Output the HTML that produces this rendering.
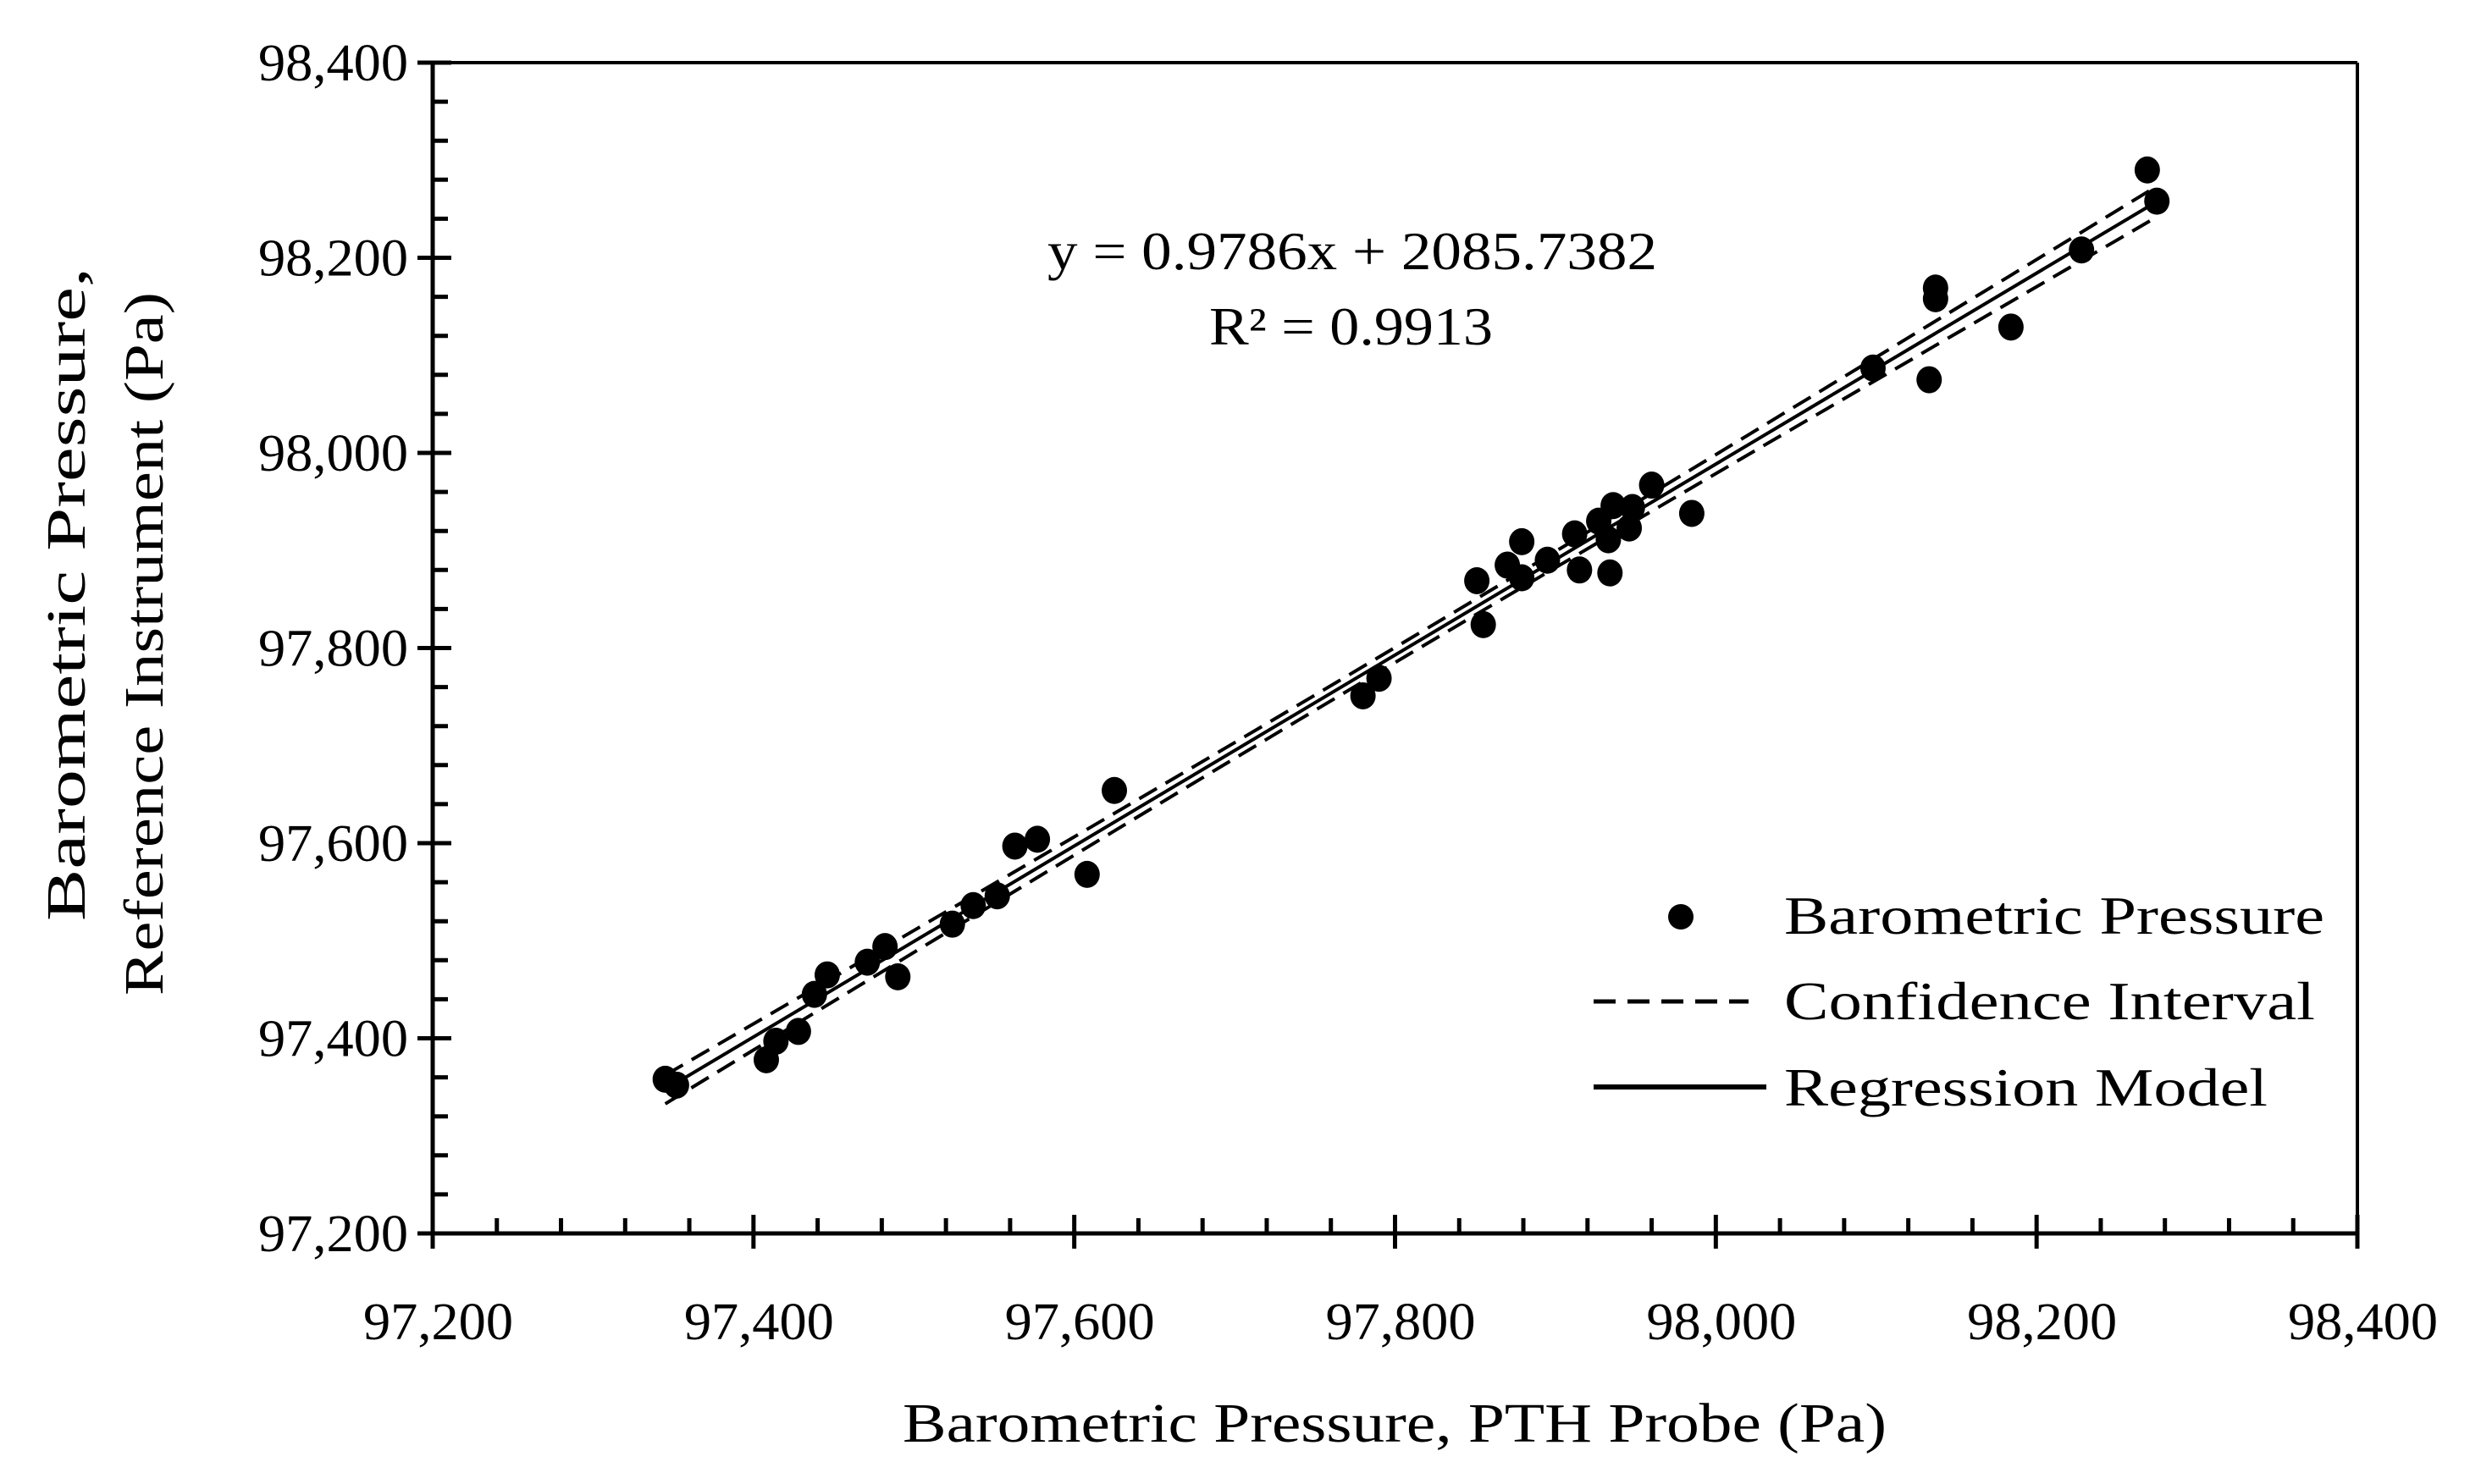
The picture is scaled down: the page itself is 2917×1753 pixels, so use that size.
<!DOCTYPE html>
<html><head><meta charset="utf-8">
<style>
html,body{margin:0;padding:0;background:#fff;}
svg{display:block;}
text{font-family:"Liberation Serif",serif;fill:#000;}
</style></head>
<body>
<svg id="chart" width="2917" height="1753" viewBox="0 0 2917 1753" xmlns="http://www.w3.org/2000/svg">
<g id="grid-layer"></g>
<g id="marks"></g>
<text x="1237" y="318" font-size="64" textLength="720" lengthAdjust="spacingAndGlyphs">y = 0.9786x + 2085.7382</text>
<text x="1428" y="407" font-size="64" textLength="335" lengthAdjust="spacingAndGlyphs">R² = 0.9913</text>
<text x="1066" y="1703" font-size="66" textLength="1162" lengthAdjust="spacingAndGlyphs">Barometric Pressure, PTH Probe (Pa)</text>
<text transform="translate(100,1088) rotate(-90)" font-size="66" textLength="772" lengthAdjust="spacingAndGlyphs">Barometric Pressure,</text>
<text transform="translate(192,1176) rotate(-90)" font-size="66" textLength="831" lengthAdjust="spacingAndGlyphs">Reference Instrument (Pa)</text>
<g>
  <circle cx="1985" cy="1083" r="15" fill="#000"/>
  <text x="2107" y="1103" font-size="64" textLength="638" lengthAdjust="spacingAndGlyphs">Barometric Pressure</text>
  <line x1="1882" y1="1183" x2="2065" y2="1183" stroke="#000" stroke-width="5" stroke-dasharray="26,14"/>
  <text x="2107" y="1204" font-size="64" textLength="627" lengthAdjust="spacingAndGlyphs">Confidence Interval</text>
  <line x1="1882" y1="1284" x2="2086" y2="1284" stroke="#000" stroke-width="6"/>
  <text x="2107" y="1306" font-size="64" textLength="571" lengthAdjust="spacingAndGlyphs">Regression Model</text>
</g>
</svg>
<script>
const xVals = [97345,97352,97408,97414,97428,97438,97446,97471,97482,97490,97524,97537,97552,97563,97577,97608,97625,97780,97790,97851,97855,97870,97879,97879,97895,97912,97915,97927,97933,97936,97934,97946,97948,97960,97985,98098,98133,98137,98137,98184,98228,98269,98275];
const yVals = [97358,97352,97378,97397,97407,97445,97465,97478,97494,97463,97517,97536,97546,97597,97604,97568,97654,97751,97769,97869,97824,97885,97909,97872,97890,97917,97880,97930,97911,97946,97877,97923,97944,97967,97938,98087,98075,98169,98158,98129,98208,98290,98258];
const xTicks = [97200,97400,97600,97800,98000,98200,98400];
const yTicks = [97200,97400,97600,97800,98000,98200,98400];
const fitParams = [0.9786, 2085.7382];

const X0=511, X1=2784, Y0=1457, Y1=74;
const xMin=97200, xMax=98400, yMin=97200, yMax=98400;
const sx = v => X0 + (v-xMin)/(xMax-xMin)*(X1-X0);
const sy = v => Y0 - (v-yMin)/(yMax-yMin)*(Y0-Y1);
const NS="http://www.w3.org/2000/svg";
const fmt = v => v.toLocaleString('en-US');
function mk(parent, tag, attrs){const e=document.createElementNS(NS,tag);for(const k in attrs)e.setAttribute(k,attrs[k]);parent.appendChild(e);return e;}

const g=document.getElementById('grid-layer');
const m=document.getElementById('marks');
let ax=mk(g,'line',{x1:X0-15,y1:Y0,x2:X1,y2:Y0,stroke:'#000','stroke-width':5});


let ay=mk(g,'line',{x1:X0,y1:Y0+15,x2:X0,y2:Y1,stroke:'#000','stroke-width':5});


let rb=mk(g,'line',{x1:X1,y1:Y0,x2:X1,y2:Y1,stroke:'#000','stroke-width':4});


let tb=mk(g,'line',{x1:X0,y1:Y1,x2:X1,y2:Y1,stroke:'#000','stroke-width':4});



for(let v=xMin; v<=xMax; v+=40){
  const major = xTicks.includes(v);
  let t=mk(g,'line',{x1:sx(v),y1:major?Y0+18:Y0,x2:sx(v),y2:major?Y0-22:Y0-18,stroke:'#000','stroke-width':5});
  
  
}
for(let v=yMin; v<=yMax; v+=40){
  const major = yTicks.includes(v);
  let t=mk(g,'line',{x1:major?X0-18:X0,y1:sy(v),x2:major?X0+22:X0+18,y2:sy(v),stroke:'#000','stroke-width':5});
  
  
}
xTicks.forEach(v=>{
  let t=mk(g,'text',{x:sx(v)+6-88,y:1582,'font-size':62,textLength:177,lengthAdjust:'spacingAndGlyphs'});
  t.textContent=fmt(v);
  
  
});
yTicks.forEach(v=>{
  let t=mk(g,'text',{x:482-177,y:sy(v)+21,'font-size':62,textLength:177,lengthAdjust:'spacingAndGlyphs'});
  t.textContent=fmt(v);
  
  
});

const n=xVals.length;
const xmean=xVals.reduce((a,b)=>a+b,0)/n;
let sxx=0, sse=0;
for(let i=0;i<n;i++){sxx+=(xVals[i]-xmean)**2; const r=yVals[i]-(fitParams[0]*xVals[i]+fitParams[1]); sse+=r*r;}
const s=Math.sqrt(sse/(n-2));
const xa=Math.min(...xVals), xb=Math.max(...xVals);
const pred = x => fitParams[0]*x+fitParams[1];
const half = x => 2.02*s*Math.sqrt(1/n+(x-xmean)**2/sxx);
let up='',lo='';
for(let k=0;k<=40;k++){
  const x=xa+(xb-xa)*k/40;
  up+=(k?'L':'M')+sx(x).toFixed(1)+','+sy(pred(x)+half(x)).toFixed(1);
  lo+=(k?'L':'M')+sx(x).toFixed(1)+','+sy(pred(x)-half(x)).toFixed(1);
}
let cu=mk(m,'path',{d:up,fill:'none',stroke:'#000','stroke-width':4,'stroke-dasharray':'24,12'});


let cl=mk(m,'path',{d:lo,fill:'none',stroke:'#000','stroke-width':4,'stroke-dasharray':'24,12'});


let rl=mk(m,'line',{x1:sx(xa),y1:sy(pred(xa)),x2:sx(xb),y2:sy(pred(xb)),stroke:'#000','stroke-width':4});



for(let i=0;i<n;i++){
  let c=mk(m,'ellipse',{cx:sx(xVals[i]),cy:sy(yVals[i]),rx:15,ry:16,fill:'#000'});
  
  
}
</script>
</body></html>
